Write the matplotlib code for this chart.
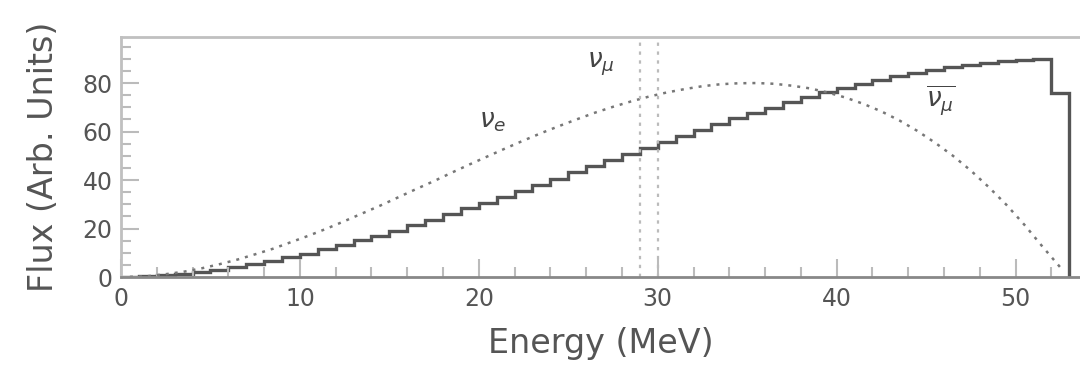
import numpy as np
import matplotlib.pyplot as plt

# 1 MeV bins, edges 0..53
edges = np.arange(0, 54, 1)
centers = edges[:-1] + 0.5

# anti-nu_mu flux per bin (solid histogram)
numubar = [0.1, 0.3, 0.7, 1.3, 2.0, 2.9, 4.0, 5.2, 6.6, 8.1,
           9.7, 11.4, 13.2, 15.1, 17.1, 19.2, 21.4, 23.6, 25.9, 28.3,
           30.7, 33.1, 35.6, 38.1, 40.6, 43.2, 45.7, 48.2, 50.7, 53.2,
           55.7, 58.2, 60.6, 63.0, 65.4, 67.6, 69.9, 72.0, 74.1, 76.1,
           77.9, 79.7, 81.3, 82.8, 84.2, 85.5, 86.6, 87.6, 88.4, 89.1,
           89.6, 89.9, 76.0]

# nu_e flux per bin (dotted curve)
nue = [0.1, 0.4, 1.2, 2.2, 3.6, 5.3, 7.2, 9.4, 11.7, 14.4,
       17.1, 20.0, 23.1, 26.3, 29.5, 32.9, 36.3, 39.6, 43.1, 46.5,
       49.8, 53.1, 56.3, 59.4, 62.3, 65.1, 67.8, 70.2, 72.4, 74.4,
       76.1, 77.5, 78.7, 79.5, 79.9, 80.0, 79.7, 78.9, 77.8, 76.1,
       74.0, 71.4, 68.3, 64.6, 60.3, 55.4, 50.0, 43.9, 37.1, 29.7,
       21.5, 12.6, 4.0]

# monoenergetic nu_mu line marked between these energies
numu_lines = [29.0, 30.0]

fig = plt.figure(figsize=(10.8, 3.77), dpi=100)
ax = fig.add_axes([0.112, 0.265, 0.888, 0.637])

ax.stairs(numubar, edges, color='#555555', lw=2.4)
ax.plot(centers, nue, color='#777777', lw=1.8, linestyle=(0, (1.2, 2.4)))
for xv in numu_lines:
    ax.axvline(xv, color='#bbbbbb', lw=1.6, linestyle=(0, (1.5, 2.5)))

ax.text(26.8, 87.5, r'$\nu_\mu$', fontsize=19, color='#444444', ha='center', va='center')
ax.text(20.8, 64.5, r'$\nu_e$', fontsize=19, color='#444444', ha='center', va='center')
ax.text(45.8, 72.5, r'$\overline{\nu_\mu}$', fontsize=19, color='#444444', ha='center', va='center')

ax.set_xlim(0, 53.6)
ax.set_ylim(0, 99)
ax.set_xticks([0, 10, 20, 30, 40, 50])
ax.set_xticks(np.arange(0, 54, 2), minor=True)
ax.set_yticks([0, 20, 40, 60, 80])
ax.set_yticks(np.arange(0, 100, 5), minor=True)
ax.tick_params(which='both', direction='in', color='#bbbbbb', labelcolor='#555555',
               labelsize=17, width=1.5)
ax.tick_params(which='major', length=13)
ax.tick_params(which='minor', length=7.5)
ax.tick_params(axis='x', pad=7)
ax.tick_params(axis='y', pad=6)

for side in ['left', 'top']:
    ax.spines[side].set_color('#c0c0c0')
    ax.spines[side].set_linewidth(2)
ax.spines['bottom'].set_color('#888888')
ax.spines['bottom'].set_linewidth(2)
ax.spines['right'].set_visible(False)

ax.set_xlabel('Energy (MeV)', fontsize=24, color='#555555', labelpad=12)
ax.set_ylabel('Flux (Arb. Units)', fontsize=24, color='#555555', labelpad=16)

fig.savefig('out.png', dpi=100)
